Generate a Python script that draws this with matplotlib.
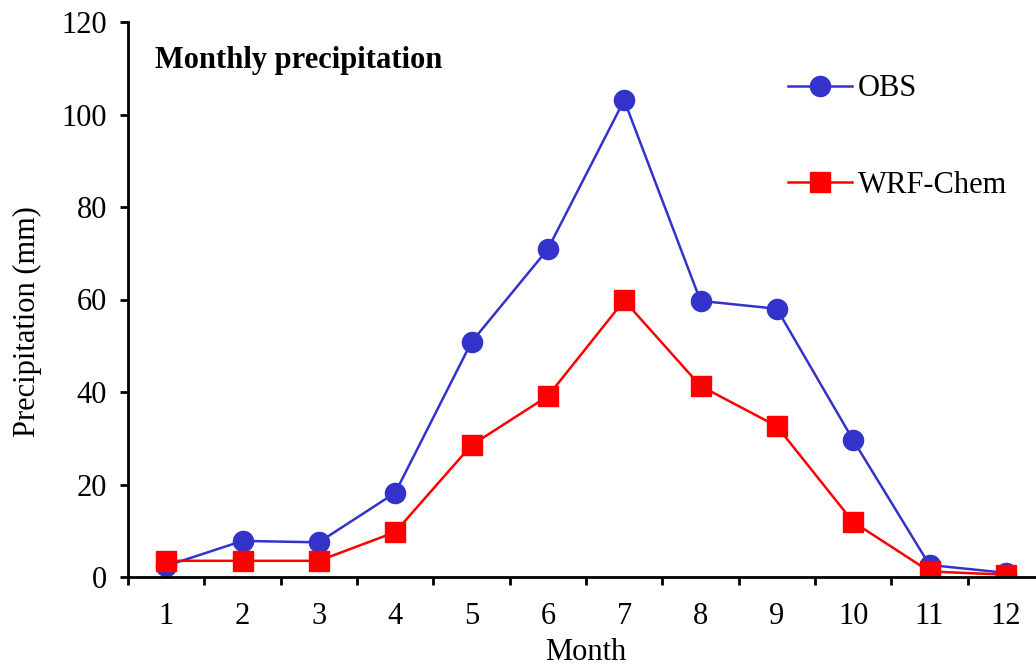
import numpy as np
import matplotlib.pyplot as plt

plt.rcParams['font.family'] = ['Liberation Serif', 'DejaVu Serif']

months = np.arange(1, 13)
obs = [2.4, 7.8, 7.5, 18.2, 50.8, 70.9, 103.1, 59.7, 58.0, 29.6, 2.6, 0.9]
wrf = [3.5, 3.5, 3.5, 9.7, 28.5, 39.1, 59.8, 41.3, 32.6, 11.9, 1.2, 0.5]

W, H = 1036, 670
fig = plt.figure(figsize=(W / 100, H / 100), dpi=100)
# axes runs past the right edge, like the cropped original
ax = fig.add_axes([128 / W, 1 - 577 / H, (1044 - 128) / W, (577 - 22) / H])

ax.plot(months, obs, color='#3333cc', lw=1.8, marker='o', ms=14.5, label='OBS')
ax.plot(months, wrf, color='#ff0000', lw=1.8, marker='s', ms=14.5, label='WRF-Chem')

ax.set_xlim(0.5, 12.5)
ax.set_ylim(0, 120)
ax.set_yticks(np.arange(0, 121, 20))
ax.set_xticks(months)
ax.set_xticks(np.arange(0.5, 12.6, 1), minor=True)
ax.tick_params(axis='x', which='major', length=0, pad=18, labelsize=22)
ax.tick_params(axis='x', which='minor', length=6, width=2, direction='out')
ax.tick_params(axis='y', length=6, width=2, direction='out', labelsize=22, pad=9)

for s in ['top', 'right']:
    ax.spines[s].set_visible(False)
for s in ['left', 'bottom']:
    ax.spines[s].set_linewidth(2)

ax.set_xlabel('Month', fontsize=22, labelpad=5)
ax.set_ylabel('Precipitation (mm)', fontsize=22)
ax.yaxis.set_label_coords(-0.094, 0.46)
ax.text(0.03, 0.93, 'Monthly precipitation', transform=ax.transAxes,
        fontsize=22, fontweight='bold', va='center')

ax.legend(loc='upper left', bbox_to_anchor=(0.69, 0.955), frameon=False,
          fontsize=22, handlelength=2.1, labelspacing=2.2, handletextpad=0.2)

fig.savefig('out.png', dpi=100)
